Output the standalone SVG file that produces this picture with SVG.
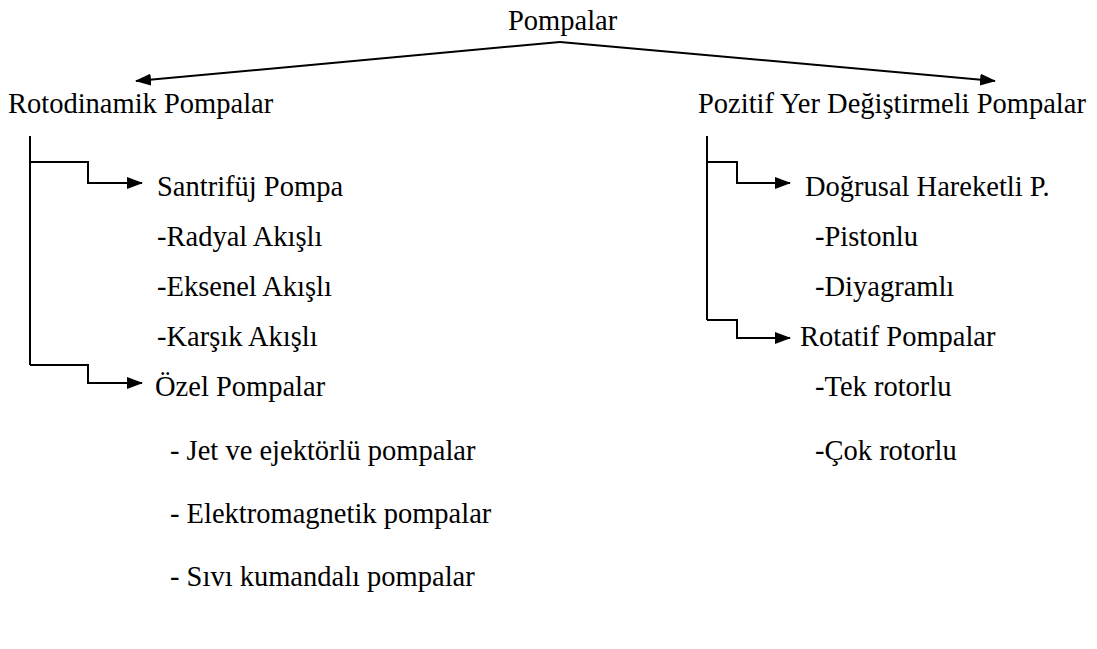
<svg xmlns="http://www.w3.org/2000/svg" width="1097" height="649" viewBox="0 0 1097 649">
<style>
text{font-family:'Liberation Serif','Times New Roman',Times,'DejaVu Serif',serif;font-size:28.5px;fill:#000}
.c{fill:none;stroke:#000;stroke-width:2}
</style>
<defs>
<marker id="ah" markerUnits="userSpaceOnUse" markerWidth="16" markerHeight="12" refX="15" refY="6" orient="auto"><path d="M0,0L16,6L0,12z" fill="#000"/></marker>
</defs>
<rect width="1097" height="649" fill="#fff"/>
<g id="connectors">
<path class="c" d="M560,42L136,81" marker-end="url(#ah)"/>
<path class="c" d="M560,42L995,81" marker-end="url(#ah)"/>
<path class="c" d="M30,136V365"/>
<path class="c" d="M30,162H88V183H142" marker-end="url(#ah)"/>
<path class="c" d="M30,365H88V383H142" marker-end="url(#ah)"/>
<path class="c" d="M707,136V320"/>
<path class="c" d="M707,162H737V183H790" marker-end="url(#ah)"/>
<path class="c" d="M707,320H737V338H790" marker-end="url(#ah)"/>
</g>
<g id="root"><text x="508" y="30" font-family="Liberation Serif, serif">Pompalar</text></g>
<g id="rotodinamik"><text x="8" y="113">Rotodinamik Pompalar</text></g>
<g id="pozitif"><text x="698" y="113">Pozitif Yer Değiştirmeli Pompalar</text></g>
<g id="santrifuj"><text x="157" y="196">Santrifüj Pompa</text>
<text x="157" y="246">-Radyal Akışlı</text>
<text x="157" y="296">-Eksenel Akışlı</text>
<text x="157" y="346">-Karşık Akışlı</text></g>
<g id="ozel"><text x="155" y="396">Özel Pompalar</text>
<text x="170" y="460">- Jet ve ejektörlü pompalar</text>
<text x="170" y="523">- Elektromagnetik pompalar</text>
<text x="170" y="586">- Sıvı kumandalı pompalar</text></g>
<g id="dogrusal"><text x="805" y="196">Doğrusal Hareketli P.</text>
<text x="815" y="246">-Pistonlu</text>
<text x="815" y="296">-Diyagramlı</text></g>
<g id="rotatif"><text x="800" y="346">Rotatif Pompalar</text>
<text x="815" y="396">-Tek rotorlu</text>
<text x="815" y="460">-Çok rotorlu</text></g>
</svg>
